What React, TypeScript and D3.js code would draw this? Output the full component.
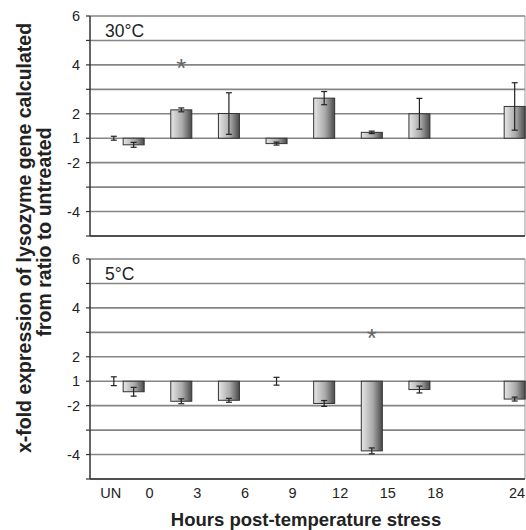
import React from 'react'
import * as d3 from 'd3'

// categories on the x axis (UN = untreated, then hours after stress)
const categories = ['UN', '0', '3', '6', '9', '12', '15', '18', '24']
const unSlot = -1.25 // where the untreated column sits on the hour axis

// signed fold change (Excel style: -2 means two-fold down) and error (in axis steps)
const warmValues = [1, -1.27, 2.16, 2.01, -1.22, 2.64, 1.24, 2.0, 2.3]
const warmErrors = [0.08, 0.1, 0.08, 0.85, 0.06, 0.27, 0.05, 0.63, 0.97]
const coldValues = [1, -1.43, -1.82, -1.78, 1, -1.91, -3.85, -1.34, -1.73]
const coldErrors = [0.18, 0.18, 0.1, 0.08, 0.16, 0.12, 0.12, 0.14, 0.08]

// y tick labels (fold) and significant time points
const yTickLabels = [6, 4, 2, 1, -2, -4]
const warmStar = ['3']
const coldStar = ['15']

const width = 526
const height = 530
const left = 90
const right = 525

// fold -> linear step index (1 -> 0, 2 -> 1, -2 -> -1 ...)
const foldToIdx = (f: number) => (f >= 0 ? f - 1 : f + 1)

const hourOf = (c: string) => (c === 'UN' ? unSlot : +c)

const x = d3.scaleLinear().domain([-2.75, 24.65]).range([left, right])
const barW = 21

function Panel({ top, bottom, values, errors, label, stars, starAt }: any) {
  const y = d3.scaleLinear().domain([-4, 5]).range([bottom, top])
  const grid = d3.range(-4, 6)
  return (
    <g>
      {grid.map(g => (
        <line key={g} x1={left} x2={right} y1={y(g)} y2={y(g)} stroke="#858585" strokeWidth={1.6} />
      ))}
      {grid.map(g => (
        <line key={'t' + g} x1={left - 4} x2={left} y1={y(g)} y2={y(g)} stroke="#333" strokeWidth={1.2} />
      ))}
      {yTickLabels.map(t => (
        <text key={t} x={left - 10} y={y(foldToIdx(t))} dy="0.36em" textAnchor="end" fontSize={14.5} fill="#222">
          {t}
        </text>
      ))}
      <line x1={right} x2={right} y1={top} y2={bottom} stroke="#999" strokeWidth={1} />
      <line x1={left} x2={left} y1={top} y2={bottom} stroke="#333" strokeWidth={1.5} />
      <line x1={left} x2={right} y1={bottom} y2={bottom} stroke="#333" strokeWidth={1.5} />
      <text x={left + 15} y={top + 21} fontSize={17.5} fill="#222">{label}</text>
      {categories.map((c, i) => {
        const v = foldToIdx(values[i])
        const cx = x(hourOf(c))
        const y0 = y(0)
        const y1 = y(v)
        return (
          <g key={c}>
            {v !== 0 && (
              <rect
                x={cx - barW / 2}
                y={Math.min(y0, y1)}
                width={barW}
                height={Math.abs(y1 - y0)}
                fill="url(#barGrad)"
                stroke="#333"
                strokeWidth={1}
              />
            )}
            <line x1={cx} x2={cx} y1={y(v + errors[i])} y2={y(v - errors[i])} stroke="#222" strokeWidth={1.2} />
            <line x1={cx - 3} x2={cx + 3} y1={y(v + errors[i])} y2={y(v + errors[i])} stroke="#222" strokeWidth={1.2} />
            <line x1={cx - 3} x2={cx + 3} y1={y(v - errors[i])} y2={y(v - errors[i])} stroke="#222" strokeWidth={1.2} />
          </g>
        )
      })}
      {stars.map((s: string) => (
        <text key={s} x={x(hourOf(s))} y={y(starAt)} dy="0.75em" textAnchor="middle" fontSize={26} fill="#666">
          *
        </text>
      ))}
    </g>
  )
}

export default function App() {
  return (
    <svg
      width={width}
      height={height}
      fontFamily="'Liberation Sans', Arial, sans-serif"
      style={{ position: 'fixed', left: 0, top: 0, display: 'block' }}
    >
      <defs>
        <linearGradient id="barGrad" x1="0" x2="1" y1="0" y2="0">
          <stop offset="0%" stopColor="#e6e6e6" />
          <stop offset="55%" stopColor="#a9a9a9" />
          <stop offset="100%" stopColor="#4a4a4a" />
        </linearGradient>
      </defs>
      <rect width={width} height={height} fill="#fff" />
      <Panel top={16} bottom={236} values={warmValues} errors={warmErrors} label="30°C" stars={warmStar} starAt={3.3} />
      <Panel top={259} bottom={479} values={coldValues} errors={coldErrors} label="5°C" stars={coldStar} starAt={2.2} />
      {categories.map(c => (
        <text key={c} x={Math.min(x(hourOf(c)) + (c === 'UN' ? -3 : 16), 517)} y={498} textAnchor="middle" fontSize={14.5} fill="#222">
          {c}
        </text>
      ))}
      <text x={306} y={526} textAnchor="middle" fontSize={18.5} fontWeight="bold" fill="#222">
        Hours post-temperature stress
      </text>
      <text transform="translate(31,238) rotate(-90)" textAnchor="middle" fontSize={19.5} fontWeight="bold" fill="#222">
        x-fold expression of lysozyme gene calculated
      </text>
      <text transform="translate(51,232) rotate(-90)" textAnchor="middle" fontSize={19.5} fontWeight="bold" fill="#222">
        from ratio to untreated
      </text>
    </svg>
  )
}
